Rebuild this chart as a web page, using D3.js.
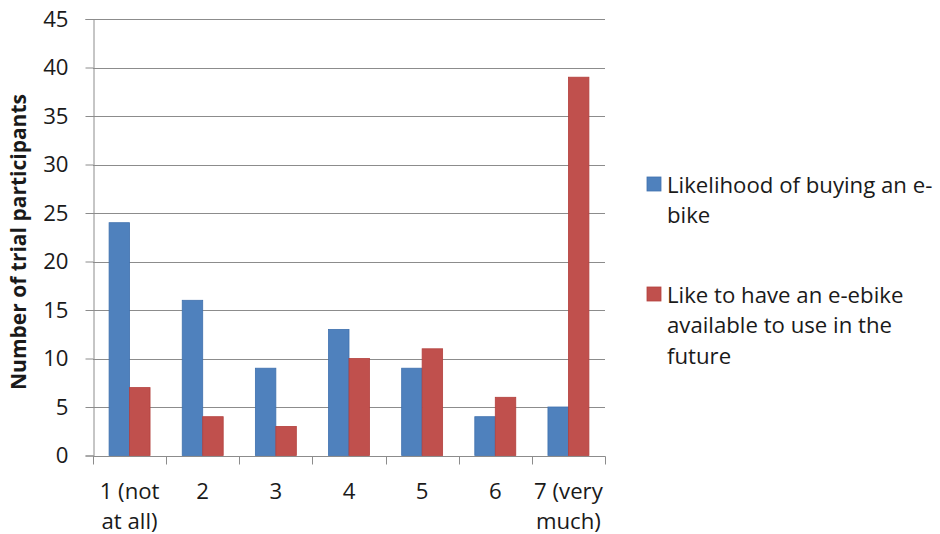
<!DOCTYPE html>
<html>
<head>
<meta charset="utf-8">
<script src="https://cdn.jsdelivr.net/npm/d3@7"></script>
<style>
  html, body { margin: 0; padding: 0; background: #fff; }
  svg text { font-family: "Open Sans", "Noto Sans", sans-serif; fill: #1a1a1a; }
</style>
</head>
<body>
<svg id="chart" width="940" height="534"></svg>
<script>
// Survey answers on a 1–7 scale
const categories = ["1 (not|at all)", "2", "3", "4", "5", "6", "7 (very|much)"];
const buyingLikelihood = [24, 16, 9, 13, 9, 4, 5];
const likeToHave = [7, 4, 3, 10, 11, 6, 39];
const yTicks = [0, 5, 10, 15, 20, 25, 30, 35, 40, 45];
const seriesNames = [
  ["Likelihood of buying an e-", "bike"],
  ["Like to have an e-ebike", "available to use in the", "future"]
];
const seriesColors = ["#4F81BD", "#C0504D"];
const seriesStrokes = ["#3F71AE", "#B3403D"];

const svg = d3.select("#chart");
const plotLeft = 93, plotRight = 605, plotTop = 19, plotBottom = 455.5;
const fontFamily = "'Open Sans', 'Noto Sans', sans-serif";
const labelSize = 22.2;

const x = d3.scaleBand().domain(categories).range([plotLeft, plotRight]).padding(0);
const y = d3.scaleLinear().domain([0, 45]).range([plotBottom, plotTop]);
const barW = x.bandwidth() * 0.28;

// horizontal gridlines
svg.append("g").selectAll("line")
  .data(yTicks.filter(t => t > 0))
  .join("line")
  .attr("x1", plotLeft).attr("x2", plotRight)
  .attr("y1", d => Math.round(y(d)) + 0.5).attr("y2", d => Math.round(y(d)) + 0.5)
  .attr("stroke", "#8c8c8c").attr("stroke-width", 1);

// y axis
const yAxis = svg.append("g")
  .attr("transform", `translate(${plotLeft + 0.5},0)`)
  .call(d3.axisLeft(y).tickValues(yTicks).tickSize(8).tickPadding(17));
yAxis.select(".domain").attr("stroke", "#8c8c8c");
yAxis.selectAll(".tick line").attr("stroke", "#8c8c8c");
yAxis.selectAll(".tick text").attr("font-size", labelSize).attr("fill", "#1a1a1a")
  .style("font-family", fontFamily);

// bars
const groups = [buyingLikelihood, likeToHave];
groups.forEach((vals, s) => {
  svg.append("g").selectAll("rect")
    .data(vals)
    .join("rect")
    .attr("x", (d, i) => x(categories[i]) + x.bandwidth() / 2 - barW + s * barW)
    .attr("y", d => y(d))
    .attr("width", barW)
    .attr("height", d => y(0) - y(d))
    .attr("fill", seriesColors[s])
    .attr("stroke", seriesStrokes[s])
    .attr("stroke-width", 0.8);
});

// x axis
const xAxis = svg.append("g")
  .attr("transform", `translate(0,${Math.round(plotBottom) + 0.5})`);
xAxis.append("line").attr("x1", plotLeft).attr("x2", plotRight + 0.5)
  .attr("stroke", "#8c8c8c");
const boundaries = categories.map(c => x(c)).concat([plotRight]);
xAxis.selectAll(".tk").data(boundaries).join("line")
  .attr("class", "tk")
  .attr("x1", d => Math.round(d) + 0.5).attr("x2", d => Math.round(d) + 0.5)
  .attr("y1", 0).attr("y2", 8)
  .attr("stroke", "#8c8c8c");
const xl = xAxis.selectAll(".lbl").data(categories).join("text")
  .attr("class", "lbl")
  .attr("text-anchor", "middle")
  .attr("font-size", labelSize)
  .attr("x", d => x(d) + x.bandwidth() / 2)
  .attr("y", 42);
xl.selectAll("tspan").data(d => d.split("|")).join("tspan")
  .attr("x", function () { return d3.select(this.parentNode).attr("x"); })
  .attr("dy", (d, i) => i === 0 ? 0 : 30)
  .text(d => d);

// y axis title
svg.append("text")
  .attr("transform", "translate(26,242) rotate(-90)")
  .attr("text-anchor", "middle")
  .attr("font-size", 21)
  .attr("font-weight", "bold")
  .text("Number of trial participants");

// legend
const legendTops = [177, 287];
seriesNames.forEach((lines, s) => {
  const g = svg.append("g").attr("transform", `translate(647,${legendTops[s]})`);
  g.append("rect").attr("width", 14).attr("height", 14)
    .attr("fill", seriesColors[s]).attr("stroke", seriesStrokes[s]).attr("stroke-width", 0.8);
  const t = g.append("text").attr("x", 20).attr("y", 15.5).attr("font-size", labelSize);
  t.selectAll("tspan").data(lines).join("tspan")
    .attr("x", 20).attr("dy", (d, i) => i === 0 ? 0 : 30.5)
    .text(d => d);
});
</script>
</body>
</html>
